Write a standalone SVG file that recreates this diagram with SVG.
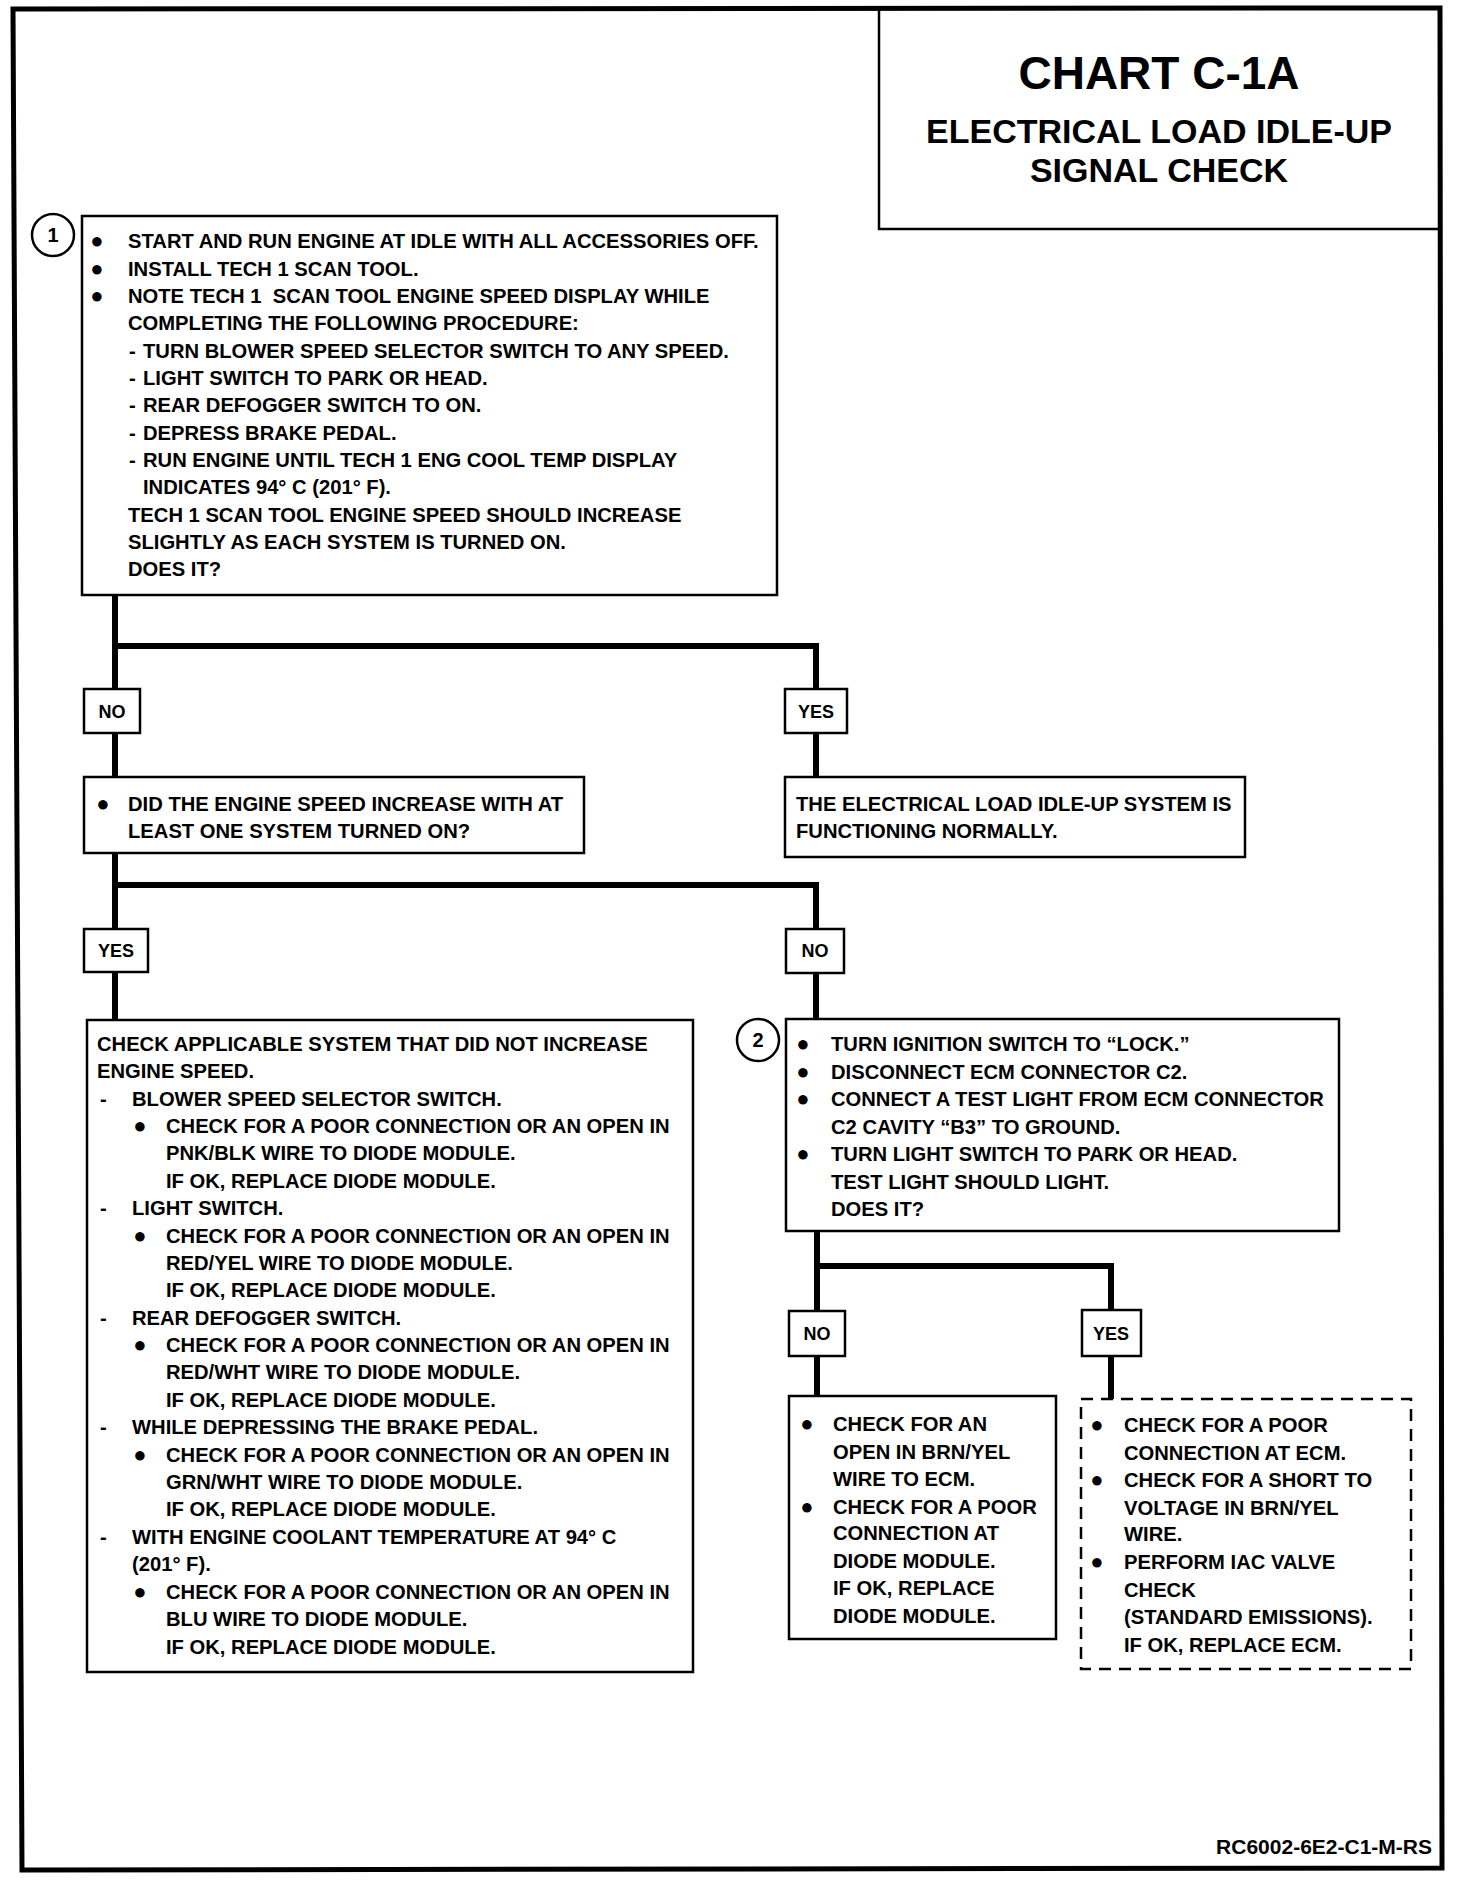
<svg xmlns="http://www.w3.org/2000/svg" width="1472" height="1880" viewBox="0 0 1472 1880">
<style>
text{font-family:"Liberation Sans",Arial,sans-serif;font-weight:bold;fill:#000;}
.t{font-size:20.2px;}
.lb{font-size:18px;text-anchor:middle;}
.bu{font-size:22px;text-anchor:middle;}
.box{fill:#fff;stroke:#000;stroke-width:2.5;}
.dash{fill:#fff;stroke:#000;stroke-width:2.5;stroke-dasharray:12 8;}
.lab{fill:#fff;stroke:#000;stroke-width:2.5;}
.con{stroke:#000;stroke-width:6;fill:none;stroke-linecap:square;}
.circ{fill:#fff;stroke:#000;stroke-width:2.5;}
</style>
<rect x="0" y="0" width="1472" height="1880" fill="#fff"/>
<path d="M13,9 L1440,8 L1442,1868 L22,1870 Z" fill="none" stroke="#000" stroke-width="5"/>

<g id="title">
<path d="M879,9 L879,229 L1440,229" fill="none" stroke="#000" stroke-width="2.5"/>
<text x="1159" y="89" font-size="46" text-anchor="middle">CHART C-1A</text>
<text x="1159" y="143" font-size="34" text-anchor="middle">ELECTRICAL LOAD IDLE-UP</text>
<text x="1159" y="182" font-size="34" text-anchor="middle">SIGNAL CHECK</text>
</g>

<g id="connectors">
<path class="con" d="M115,595 L115,777"/>
<path class="con" d="M115,646 L816,646 L816,777"/>
<path class="con" d="M115,853 L115,1020"/>
<path class="con" d="M115,885 L816,885 L816,1019"/>
<path class="con" d="M817,1231 L817,1396"/>
<path class="con" d="M817,1266 L1111,1266 L1111,1399"/>
</g>

<g id="step1">
<circle class="circ" cx="53" cy="235" r="21"/>
<text x="53" y="242" font-size="20" text-anchor="middle">1</text>
<rect class="box" x="82" y="216" width="695" height="379"/>
<text class="bu" x="97" y="248">●</text>
<text class="t" x="128" y="248">START AND RUN ENGINE AT IDLE WITH ALL ACCESSORIES OFF.</text>
<text class="bu" x="97" y="276">●</text>
<text class="t" x="128" y="276">INSTALL TECH 1 SCAN TOOL.</text>
<text class="bu" x="97" y="303">●</text>
<text class="t" x="128" y="303" style="white-space:pre">NOTE TECH 1  SCAN TOOL ENGINE SPEED DISPLAY WHILE</text>
<text class="t" x="128" y="330">COMPLETING THE FOLLOWING PROCEDURE:</text>
<text class="t" x="129" y="358">-</text><text class="t" x="143" y="358">TURN BLOWER SPEED SELECTOR SWITCH TO ANY SPEED.</text>
<text class="t" x="129" y="385">-</text><text class="t" x="143" y="385">LIGHT SWITCH TO PARK OR HEAD.</text>
<text class="t" x="129" y="412">-</text><text class="t" x="143" y="412">REAR DEFOGGER SWITCH TO ON.</text>
<text class="t" x="129" y="440">-</text><text class="t" x="143" y="440">DEPRESS BRAKE PEDAL.</text>
<text class="t" x="129" y="467">-</text><text class="t" x="143" y="467">RUN ENGINE UNTIL TECH 1 ENG COOL TEMP DISPLAY</text>
<text class="t" x="143" y="494">INDICATES 94° C (201° F).</text>
<text class="t" x="128" y="522">TECH 1 SCAN TOOL ENGINE SPEED SHOULD INCREASE</text>
<text class="t" x="128" y="549">SLIGHTLY AS EACH SYSTEM IS TURNED ON.</text>
<text class="t" x="128" y="576">DOES IT?</text>
</g>

<g id="label-no-1">
<rect class="lab" x="84" y="689" width="56" height="44"/>
<text class="lb" x="112" y="718">NO</text>
</g>
<g id="label-yes-1">
<rect class="lab" x="785" y="689" width="62" height="44"/>
<text class="lb" x="816" y="718">YES</text>
</g>

<g id="q-increase">
<rect class="box" x="84" y="777" width="500" height="76"/>
<text class="bu" x="103" y="811">●</text>
<text class="t" x="128" y="811">DID THE ENGINE SPEED INCREASE WITH AT</text>
<text class="t" x="128" y="838">LEAST ONE SYSTEM TURNED ON?</text>
</g>

<g id="normal">
<rect class="box" x="785" y="777" width="460" height="80"/>
<text class="t" x="796" y="811">THE ELECTRICAL LOAD IDLE-UP SYSTEM IS</text>
<text class="t" x="796" y="838">FUNCTIONING NORMALLY.</text>
</g>

<g id="label-yes-2">
<rect class="lab" x="84" y="929" width="64" height="43"/>
<text class="lb" x="116" y="957">YES</text>
</g>
<g id="label-no-2">
<rect class="lab" x="786" y="929" width="58" height="44"/>
<text class="lb" x="815" y="957">NO</text>
</g>

<g id="check-systems">
<rect class="box" x="87" y="1020" width="606" height="652"/>
<text class="t" x="97" y="1051">CHECK APPLICABLE SYSTEM THAT DID NOT INCREASE</text>
<text class="t" x="97" y="1078">ENGINE SPEED.</text>
<text class="t" x="100" y="1106">-</text><text class="t" x="132" y="1106">BLOWER SPEED SELECTOR SWITCH.</text>
<text class="bu" x="140" y="1133">●</text><text class="t" x="166" y="1133">CHECK FOR A POOR CONNECTION OR AN OPEN IN</text>
<text class="t" x="166" y="1160">PNK/BLK WIRE TO DIODE MODULE.</text>
<text class="t" x="166" y="1188">IF OK, REPLACE DIODE MODULE.</text>
<text class="t" x="100" y="1215">-</text><text class="t" x="132" y="1215">LIGHT SWITCH.</text>
<text class="bu" x="140" y="1243">●</text><text class="t" x="166" y="1243">CHECK FOR A POOR CONNECTION OR AN OPEN IN</text>
<text class="t" x="166" y="1270">RED/YEL WIRE TO DIODE MODULE.</text>
<text class="t" x="166" y="1297">IF OK, REPLACE DIODE MODULE.</text>
<text class="t" x="100" y="1325">-</text><text class="t" x="132" y="1325">REAR DEFOGGER SWITCH.</text>
<text class="bu" x="140" y="1352">●</text><text class="t" x="166" y="1352">CHECK FOR A POOR CONNECTION OR AN OPEN IN</text>
<text class="t" x="166" y="1379">RED/WHT WIRE TO DIODE MODULE.</text>
<text class="t" x="166" y="1407">IF OK, REPLACE DIODE MODULE.</text>
<text class="t" x="100" y="1434">-</text><text class="t" x="132" y="1434">WHILE DEPRESSING THE BRAKE PEDAL.</text>
<text class="bu" x="140" y="1462">●</text><text class="t" x="166" y="1462">CHECK FOR A POOR CONNECTION OR AN OPEN IN</text>
<text class="t" x="166" y="1489">GRN/WHT WIRE TO DIODE MODULE.</text>
<text class="t" x="166" y="1516">IF OK, REPLACE DIODE MODULE.</text>
<text class="t" x="100" y="1544">-</text><text class="t" x="132" y="1544">WITH ENGINE COOLANT TEMPERATURE AT 94° C</text>
<text class="t" x="132" y="1571">(201° F).</text>
<text class="bu" x="140" y="1599">●</text><text class="t" x="166" y="1599">CHECK FOR A POOR CONNECTION OR AN OPEN IN</text>
<text class="t" x="166" y="1626">BLU WIRE TO DIODE MODULE.</text>
<text class="t" x="166" y="1654">IF OK, REPLACE DIODE MODULE.</text>
</g>

<g id="step2">
<circle class="circ" cx="758" cy="1040" r="21"/>
<text x="758" y="1047" font-size="20" text-anchor="middle">2</text>
<rect class="box" x="786" y="1019" width="553" height="212"/>
<text class="bu" x="803" y="1051">●</text><text class="t" x="831" y="1051">TURN IGNITION SWITCH TO “LOCK.”</text>
<text class="bu" x="803" y="1079">●</text><text class="t" x="831" y="1079">DISCONNECT ECM CONNECTOR C2.</text>
<text class="bu" x="803" y="1106">●</text><text class="t" x="831" y="1106">CONNECT A TEST LIGHT FROM ECM CONNECTOR</text>
<text class="t" x="831" y="1134">C2 CAVITY “B3” TO GROUND.</text>
<text class="bu" x="803" y="1161">●</text><text class="t" x="831" y="1161">TURN LIGHT SWITCH TO PARK OR HEAD.</text>
<text class="t" x="831" y="1189">TEST LIGHT SHOULD LIGHT.</text>
<text class="t" x="831" y="1216">DOES IT?</text>
</g>

<g id="label-no-3">
<rect class="lab" x="789" y="1311" width="56" height="45"/>
<text class="lb" x="817" y="1340">NO</text>
</g>
<g id="label-yes-3">
<rect class="lab" x="1082" y="1310" width="59" height="46"/>
<text class="lb" x="1111" y="1340">YES</text>
</g>

<g id="open-circuit">
<rect class="box" x="789" y="1396" width="267" height="243"/>
<text class="bu" x="807" y="1431">●</text><text class="t" x="833" y="1431">CHECK FOR AN</text>
<text class="t" x="833" y="1459">OPEN IN BRN/YEL</text>
<text class="t" x="833" y="1486">WIRE TO ECM.</text>
<text class="bu" x="807" y="1514">●</text><text class="t" x="833" y="1514">CHECK FOR A POOR</text>
<text class="t" x="833" y="1540">CONNECTION AT</text>
<text class="t" x="833" y="1568">DIODE MODULE.</text>
<text class="t" x="833" y="1595">IF OK, REPLACE</text>
<text class="t" x="833" y="1623">DIODE MODULE.</text>
</g>

<g id="short-voltage">
<rect class="dash" x="1081" y="1399" width="330" height="270"/>
<text class="bu" x="1097" y="1432">●</text><text class="t" x="1124" y="1432">CHECK FOR A POOR</text>
<text class="t" x="1124" y="1460">CONNECTION AT ECM.</text>
<text class="bu" x="1097" y="1487">●</text><text class="t" x="1124" y="1487">CHECK FOR A SHORT TO</text>
<text class="t" x="1124" y="1515">VOLTAGE IN BRN/YEL</text>
<text class="t" x="1124" y="1541">WIRE.</text>
<text class="bu" x="1097" y="1569">●</text><text class="t" x="1124" y="1569">PERFORM IAC VALVE</text>
<text class="t" x="1124" y="1597">CHECK</text>
<text class="t" x="1124" y="1624">(STANDARD EMISSIONS).</text>
<text class="t" x="1124" y="1652">IF OK, REPLACE ECM.</text>
</g>

<text x="1432" y="1854" font-size="21" text-anchor="end">RC6002-6E2-C1-M-RS</text>
</svg>
